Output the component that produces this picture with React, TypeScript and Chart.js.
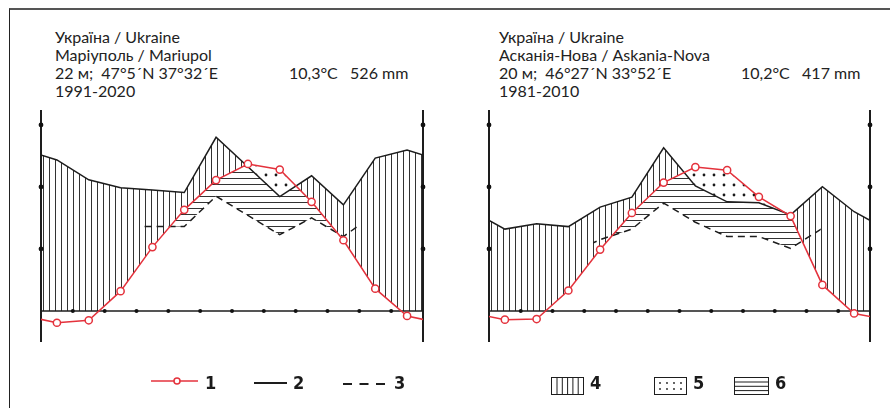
import React, { useEffect, useRef } from 'react';
import { Chart, registerables } from 'chart.js';

Chart.register(...registerables);

// ---------- data ----------
const months = ['I', 'II', 'III', 'IV', 'V', 'VI', 'VII', 'VIII', 'IX', 'X', 'XI', 'XII'];
const tempTicks = [10, 20, 30];

// Mariupol 1991-2020 (°C, mm)
const mariupolTemp = [-1.9, -1.5, 3.2, 10.3, 16.3, 21.1, 23.7, 22.8, 17.6, 11.4, 3.6, -0.8];
const mariupolPrec = [48.7, 42.3, 39.7, 39.0, 38.2, 56.0, 46.5, 36.9, 43.6, 34.2, 49.3, 51.9];
// precipitation drawn at the 10°C = 30 mm scale (dashed line 3)
const mariupolPrec3 = [null, null, 40.8, 40.8, 40.8, 55.5, 46.2, 36.9, 45.0, 36.0, 47.0, null];
const mariupolDashSpan = [3.2, 9.97];

// Askania-Nova 1981-2010 (°C, mm)
const askaniaTemp = [-1.4, -1.3, 3.3, 9.9, 15.8, 20.7, 23.2, 22.7, 18.4, 15.3, 4.2, -0.4];
const askaniaPrec = [26.4, 28.1, 27.2, 33.5, 36.7, 52.6, 40.3, 35.2, 34.9, 31.0, 40.1, 32.0];
const askaniaPrec3 = [null, null, 27.6, 34.5, 39.6, 52.2, 42.9, 36.0, 36.0, 30.3, 40.0, null];
const askaniaDashSpan = [3.28, 10.45];

const mariupolHeader = ['Україна / Ukraine', 'Маріуполь / Mariupol', '22 м;  47°5´N 37°32´E', '1991-2020'];
const mariupolStats = '10,3°C   526 mm';
const askaniaHeader = ['Україна / Ukraine', 'Асканія-Нова / Askania-Nova', '20 м;  46°27´N 33°52´E', '1981-2010'];
const askaniaStats = '10,2°C   417 mm';

const legendLabels = ['1', '2', '3', '4', '5', '6'];

// ---------- styles ----------
const RED = '#e4323c';
const INK = '#1d1d1d';
const HATCH = '#333333';

type Pt = { x: number; y: number };

function makePatterns(ctx: CanvasRenderingContext2D) {
  const mk = (w: number, h: number, draw: (g: CanvasRenderingContext2D) => void) => {
    const c = document.createElement('canvas');
    c.width = w;
    c.height = h;
    const g = c.getContext('2d')!;
    draw(g);
    return ctx.createPattern(c, 'repeat')!;
  };
  const v = mk(6, 6, (g) => {
    g.fillStyle = HATCH;
    g.fillRect(0, 0, 1, 6);
  });
  const h = mk(6, 6, (g) => {
    g.fillStyle = HATCH;
    g.fillRect(0, 0, 6, 1);
  });
  const d = mk(10, 10, (g) => {
    g.fillStyle = '#1a1a1a';
    g.beginPath();
    g.arc(5, 5, 1.4, 0, Math.PI * 2);
    g.fill();
  });
  return { v, h, d };
}

function ClimateChart(props: {
  temp: number[];
  prec: number[];
  prec3: (number | null)[];
  dashSpan: number[];
  left: number;
  top: number;
  width: number;
  height: number;
}) {
  const ref = useRef<HTMLCanvasElement>(null);
  useEffect(() => {
    const canvas = ref.current!;
    const ctx = canvas.getContext('2d')!;
    const pats = makePatterns(ctx);
    const n = months.length;
    const wrap = (arr: number[]) => [
      { x: -0.5, y: arr[n - 1] },
      ...arr.map((v, i) => ({ x: i + 0.5, y: v })),
      { x: n + 0.5, y: arr[0] },
    ];
    const dashData = props.prec3
      .map((v, i) => ({ x: i + 0.5, y: v }))
      .filter((p) => p.y !== null);
    const [dashFrom, dashTo] = props.dashSpan;

    const plugin = {
      id: 'climateFills',
      beforeDatasetsDraw(chart: any) {
        const c: CanvasRenderingContext2D = chart.ctx;
        const a = chart.chartArea;
        const sx = chart.scales.x;
        const sy = chart.scales.y;
        const pts = (i: number): Pt[] => chart.getDatasetMeta(i).data.map((p: any) => ({ x: p.x, y: p.y }));
        const T = pts(0);
        const P = pts(1);
        const D = pts(2);
        const zeroY = sy.getPixelForValue(0);
        const poly = (L: Pt[], edge: number) => {
          c.moveTo(L[0].x, L[0].y);
          for (const p of L) c.lineTo(p.x, p.y);
          c.lineTo(L[L.length - 1].x, edge);
          c.lineTo(L[0].x, edge);
          c.closePath();
        };
        const below = (L: Pt[]) => () => poly(L, a.bottom + 100);
        const above = (L: Pt[]) => () => poly(L, a.top - 100);
        const region = (clips: (() => void)[], fill: CanvasPattern) => {
          c.save();
          c.beginPath();
          c.rect(a.left, a.top, a.right - a.left, a.bottom - a.top);
          c.clip();
          for (const cl of clips) {
            c.beginPath();
            cl();
            c.clip();
          }
          c.fillStyle = fill;
          c.fillRect(a.left, a.top, a.right - a.left, a.bottom - a.top);
          c.restore();
        };
        // 4: humid period (precipitation above temperature, above 0)
        region([above(T), below(P), () => c.rect(a.left, a.top, a.right - a.left, zeroY - a.top)], pats.v);
        // 5: dry period
        region([below(T), above(P)], pats.d);
        // 6: semi-arid (temperature above the 1:3 precipitation line)
        const x0 = sx.getPixelForValue(dashFrom);
        const x1 = sx.getPixelForValue(dashTo);
        region([below(T), below(P), above(D), () => c.rect(x0, a.top, x1 - x0, a.bottom - a.top)], pats.h);

        // axes
        c.save();
        c.strokeStyle = INK;
        c.lineWidth = 2;
        c.beginPath();
        c.moveTo(a.left, a.top);
        c.lineTo(a.left, a.bottom);
        c.moveTo(a.right, a.top);
        c.lineTo(a.right, a.bottom);
        c.stroke();
        c.lineWidth = 1.6;
        c.beginPath();
        c.moveTo(a.left, zeroY);
        c.lineTo(a.right, zeroY);
        c.stroke();
        c.fillStyle = '#111';
        const dot = (x: number, y: number, r: number) => {
          c.beginPath();
          c.arc(x, y, r, 0, Math.PI * 2);
          c.fill();
        };
        for (const t of tempTicks) {
          const y = sy.getPixelForValue(t);
          dot(a.left, y, 2.4);
          dot(a.right, y, 2.4);
        }
        for (let m = 1; m < n; m++) dot(sx.getPixelForValue(m), zeroY, 2);
        c.restore();
      },
      beforeDatasetDraw(chart: any, args: any) {
        if (args.index !== 2) return;
        const c: CanvasRenderingContext2D = chart.ctx;
        const a = chart.chartArea;
        const sx = chart.scales.x;
        const x0 = sx.getPixelForValue(dashFrom);
        const x1 = sx.getPixelForValue(dashTo);
        c.save();
        c.beginPath();
        c.rect(x0, a.top, x1 - x0, a.bottom - a.top);
        c.clip();
      },
      afterDatasetDraw(chart: any, args: any) {
        if (args.index !== 2) return;
        chart.ctx.restore();
      },
    };

    const tempData = wrap(props.temp);
    const chart = new Chart(canvas, {
      type: 'line',
      data: {
        datasets: [
          {
            data: tempData,
            yAxisID: 'y',
            borderColor: RED,
            borderWidth: 1.5,
            pointRadius: tempData.map((_, i) => (i === 0 || i === tempData.length - 1 ? 0 : 3.6)),
            pointBackgroundColor: '#fff',
            pointBorderColor: RED,
            pointBorderWidth: 1.5,
            tension: 0,
            clip: 0,
          },
          {
            data: wrap(props.prec),
            yAxisID: 'yP',
            borderColor: INK,
            borderWidth: 1.5,
            pointRadius: 0,
            tension: 0,
            clip: 0,
          },
          {
            data: dashData,
            yAxisID: 'yD',
            borderColor: INK,
            borderWidth: 1.5,
            borderDash: [7, 5],
            pointRadius: 0,
            tension: 0,
            clip: 0,
          },
        ] as any,
      },
      options: {
        responsive: false,
        animation: false,
        events: [],
        layout: { padding: 10 },
        plugins: { legend: { display: false }, tooltip: { enabled: false } },
        scales: {
          x: { type: 'linear', min: 0, max: n, display: false },
          y: { type: 'linear', axis: 'y', min: -5, max: 32.4, display: false },
          yP: { type: 'linear', axis: 'y', min: -10, max: 64.8, display: false },
          yD: { type: 'linear', axis: 'y', min: -15, max: 97.2, display: false },
        } as any,
      },
      plugins: [plugin as any],
    });
    return () => chart.destroy();
  }, []);
  return (
    <canvas
      ref={ref}
      width={props.width}
      height={props.height}
      style={{ position: 'absolute', left: props.left, top: props.top, width: props.width, height: props.height }}
    />
  );
}

function Header(props: { lines: string[]; stats: string; left: number; statsLeft: number }) {
  const lh = 18.3;
  const top = 27.5;
  return (
    <>
      <div
        style={{
          position: 'absolute',
          left: props.left,
          top,
          fontSize: 16,
          lineHeight: lh + 'px',
          whiteSpace: 'pre',
          color: '#222',
        }}
      >
        {props.lines.map((l, i) => (
          <div key={i}>{l}</div>
        ))}
      </div>
      <div
        style={{
          position: 'absolute',
          left: props.statsLeft,
          top: top + 2 * lh,
          fontSize: 16,
          lineHeight: lh + 'px',
          whiteSpace: 'pre',
          color: '#222',
        }}
      >
        {props.stats}
      </div>
    </>
  );
}

function Legend() {
  const numStyle: any = {
    fontFamily: '"Liberation Sans Narrow", "DejaVu Sans Condensed", sans-serif',
    fontWeight: 'bold',
    fontSize: 18,
    fill: '#1a1a1a',
  };
  const base = 389;
  return (
    <svg width={890} height={408} style={{ position: 'absolute', left: 0, top: 0 }}>
      <line x1={151} y1={381} x2={198} y2={381} stroke={RED} strokeWidth={1.5} />
      <circle cx={177} cy={381} r={3} fill="#fff" stroke={RED} strokeWidth={1.5} />
      <text x={205} y={base} style={numStyle}>{legendLabels[0]}</text>

      <line x1={254} y1={383} x2={287} y2={383} stroke={INK} strokeWidth={2} />
      <text x={293} y={base} style={numStyle}>{legendLabels[1]}</text>

      <line x1={343} y1={384} x2={386} y2={384} stroke={INK} strokeWidth={2} strokeDasharray="9 7.5" />
      <text x={394} y={base} style={numStyle}>{legendLabels[2]}</text>

      <rect x={551.5} y={377.5} width={32} height={17} fill="#fff" stroke={INK} strokeWidth={1} />
      {[0, 1, 2, 3, 4].map((i) => (
        <line key={i} x1={557 + i * 5.3} y1={378} x2={557 + i * 5.3} y2={394} stroke={INK} strokeWidth={1} />
      ))}
      <text x={590} y={base} style={numStyle}>{legendLabels[3]}</text>

      <rect x={654.5} y={377.5} width={32} height={17} fill="#fff" stroke={INK} strokeWidth={1} />
      {[0, 1, 2, 3].flatMap((i) =>
        [0, 1].map((j) => <circle key={i + '-' + j} cx={660 + i * 7} cy={383 + j * 6} r={0.9} fill={INK} />)
      )}
      <text x={693} y={base} style={numStyle}>{legendLabels[4]}</text>

      <rect x={734.5} y={377.5} width={34} height={17} fill="#fff" stroke={INK} strokeWidth={1} />
      {[0, 1, 2].map((i) => (
        <line key={i} x1={735} y1={382 + i * 4.3} x2={768} y2={382 + i * 4.3} stroke={INK} strokeWidth={1} />
      ))}
      <text x={775} y={base} style={numStyle}>{legendLabels[5]}</text>
    </svg>
  );
}

export default function App() {
  return (
    <div
      style={{
        position: 'absolute',
        left: 0,
        top: 0,
        width: 890,
        height: 408,
        background: '#fff',
        overflow: 'hidden',
        fontFamily: 'Lato, "Open Sans", sans-serif',
      }}
    >
      <div
        style={{
          position: 'absolute',
          left: 9,
          top: 8,
          width: 890,
          height: 420,
          borderTop: '2px solid #555',
          borderLeft: '1px solid #222',
        }}
      />
      <Header lines={mariupolHeader} stats={mariupolStats} left={55} statsLeft={289} />
      <Header lines={askaniaHeader} stats={askaniaStats} left={499} statsLeft={741} />
      <ClimateChart
        temp={mariupolTemp}
        prec={mariupolPrec}
        prec3={mariupolPrec3}
        dashSpan={mariupolDashSpan}
        left={31}
        top={100}
        width={402}
        height={252}
      />
      <ClimateChart
        temp={askaniaTemp}
        prec={askaniaPrec}
        prec3={askaniaPrec3}
        dashSpan={askaniaDashSpan}
        left={479}
        top={100}
        width={401}
        height={252}
      />
      <Legend />
    </div>
  );
}
